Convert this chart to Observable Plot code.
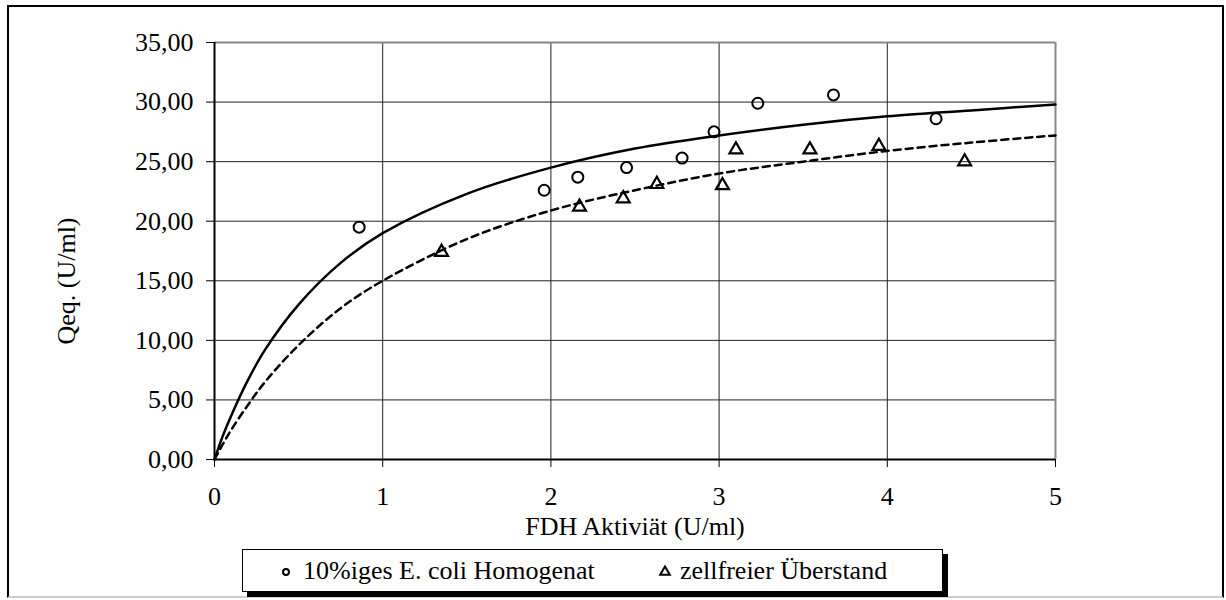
<!DOCTYPE html>
<html><head><meta charset="utf-8">
<script src="https://cdn.jsdelivr.net/npm/d3@7"></script>
<script src="https://cdn.jsdelivr.net/npm/@observablehq/plot@0.6"></script>
<style>
body{margin:0;background:#fff;font-family:"Liberation Serif","Times New Roman",serif;}
#wrap{position:relative;width:1226px;height:600px;overflow:hidden;background:#fff}
#chart{position:absolute;left:0;top:0}
#frame{position:absolute;left:7px;top:5px;width:1213px;height:589px;border:2px solid #000;border-bottom-color:#ccc;pointer-events:none}
#legend{position:absolute;left:242px;top:549px;width:699px;height:41px;border:1px solid #000;box-shadow:5px 5px 0 #000;background:#fff;font-size:26px;color:#000}
#legend .item{position:absolute;top:0;height:41px;line-height:41px;white-space:nowrap}
#legend svg{position:absolute;top:0}
</style>
</head><body>
<div id="wrap"><div id="chart"></div><div id="frame"></div><div id="legend"></div></div>
<script>
const xTicks = [0, 1, 2, 3, 4, 5];
const yTicks = [0, 5, 10, 15, 20, 25, 30, 35];
const seriesNames = ["10%iges E. coli Homogenat", "zellfreier Überstand"];
const xTitle = "FDH Aktiviät (U/ml)";
const yTitle = "Qeq. (U/ml)";

// measured points
const homX = [0.86, 1.96, 2.16, 2.45, 2.78, 2.97, 3.23, 3.68, 4.29];
const homY = [19.5, 22.6, 23.7, 24.5, 25.3, 27.5, 29.9, 30.6, 28.6];
const uebX = [1.35, 2.17, 2.43, 2.63, 3.02, 3.10, 3.54, 3.95, 4.46];
const uebY = [17.4, 21.2, 21.9, 23.1, 23.0, 26.0, 26.0, 26.3, 25.0];

// fitted curves
const fitX    = [0, 0.05, 0.1, 0.2, 0.3, 0.5, 0.75, 1, 1.5, 2, 2.5, 3, 3.5, 4, 4.5, 5];
const homFitY = [0, 2.0, 3.7, 6.7, 9.2, 13.0, 16.5, 19.0, 22.3, 24.5, 26.1, 27.2, 28.1, 28.8, 29.3, 29.8];
const uebFitY = [0, 1.3, 2.5, 4.6, 6.5, 9.6, 12.7, 15.0, 18.5, 20.9, 22.6, 24.0, 25.0, 25.9, 26.6, 27.2];

const hom = homX.map((x, i) => ({x, y: homY[i]}));
const ueb = uebX.map((x, i) => ({x, y: uebY[i]}));
const homFit = fitX.map((x, i) => ({x, y: homFitY[i]}));
const uebFit = fitX.map((x, i) => ({x, y: uebFitY[i]}));
const fmt = d => d3.format(".2f")(d).replace(".", ",");

const plot = Plot.plot({
  width: 1226, height: 545,
  marginLeft: 214, marginRight: 171, marginTop: 42, marginBottom: 86,
  style: {fontFamily: "'Liberation Serif','Times New Roman',serif", fontSize: "26px", color: "#000", background: "transparent", overflow: "visible"},
  x: {domain: [0, 5]},
  y: {domain: [0, 35]},
  marks: [
    Plot.gridX(xTicks, {stroke: "#222", strokeOpacity: 1, strokeWidth: 1}),
    Plot.gridY(yTicks, {stroke: "#222", strokeOpacity: 1, strokeWidth: 1}),
    Plot.ruleY([35], {stroke: "#888", strokeWidth: 2}),
    Plot.ruleX([5], {stroke: "#888", strokeWidth: 2}),
    Plot.ruleY([0], {stroke: "#000", strokeWidth: 2}),
    Plot.ruleX([0], {stroke: "#000", strokeWidth: 2}),
    Plot.axisX(xTicks, {tickSize: 8, tickPadding: 19, label: null, tickFormat: d => String(d), stroke: "#000"}),
    Plot.axisY(yTicks, {tickSize: 8, tickPadding: 13, label: null, tickFormat: fmt, stroke: "#000"}),
    Plot.line(homFit, {x: "x", y: "y", curve: "catmull-rom", stroke: "#000", strokeWidth: 2.5}),
    Plot.line(uebFit, {x: "x", y: "y", curve: "catmull-rom", stroke: "#000", strokeWidth: 2.5, strokeDasharray: "7,5"}),
    Plot.dot(hom, {x: "x", y: "y", r: 5.5, stroke: "#000", strokeWidth: 2, fill: "none"}),
    Plot.dot(ueb, {x: "x", y: "y", symbol: "triangle", r: 4.8, stroke: "#000", strokeWidth: 2.2, fill: "none"}),
    Plot.text([xTitle], {frameAnchor: "bottom", dy: 67, lineAnchor: "middle", textAnchor: "middle", fill: "#000"}),
    Plot.text([yTitle], {frameAnchor: "left", rotate: -90, dx: -148, dy: 30, lineAnchor: "middle", textAnchor: "middle", fill: "#000"})
  ]
});
document.getElementById("chart").appendChild(plot);

const legend = document.getElementById("legend");
const items = [
  {name: seriesNames[0], sym: "circle", mx: 43, tx: 60},
  {name: seriesNames[1], sym: "triangle", mx: 422, tx: 437}
];
for (const it of items) {
  const s = d3.create("svg").attr("width", 14).attr("height", 41).style("left", (it.mx - 7) + "px");
  s.append("path").attr("transform", "translate(7,22)")
    .attr("d", d3.symbol(it.sym === "circle" ? d3.symbolCircle : d3.symbolTriangle, it.sym === "circle" ? 28 : 40)())
    .attr("fill", "none").attr("stroke", "#000").attr("stroke-width", 2);
  legend.appendChild(s.node());
  const t = document.createElement("div");
  t.className = "item"; t.style.left = it.tx + "px"; t.textContent = it.name;
  legend.appendChild(t);
}
</script>
</body></html>
